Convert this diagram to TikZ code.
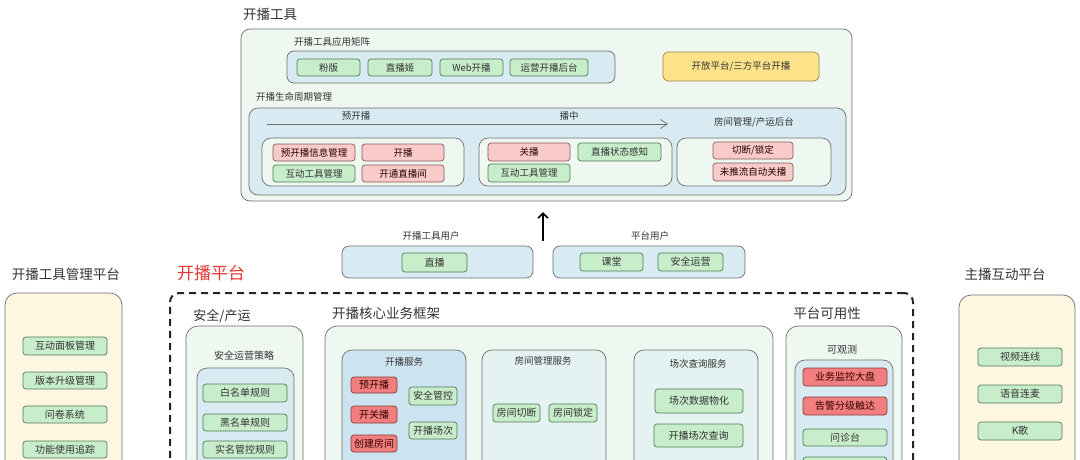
\documentclass[tikz,border=0pt]{standalone}
\usepackage{fontspec}
\setmainfont{Noto Sans CJK SC}
\usetikzlibrary{arrows.meta}
\definecolor{paleg}{HTML}{EEF8F0}
\definecolor{lblue}{HTML}{D8EBF3}
\definecolor{mblue}{HTML}{CCE4EF}
\definecolor{gfill}{HTML}{C8EDCB}
\definecolor{gdraw}{HTML}{4F7A55}
\definecolor{pfill}{HTML}{F8CACA}
\definecolor{pdraw}{HTML}{8A5555}
\definecolor{rfill}{HTML}{F17F7F}
\definecolor{rdraw}{HTML}{8A3A3A}
\definecolor{yfill}{HTML}{FCE38A}
\definecolor{ydraw}{HTML}{9A8645}
\definecolor{cream}{HTML}{FDF6E1}
\definecolor{bdr}{HTML}{6E6E6E}
\definecolor{txt}{HTML}{333333}
\definecolor{redt}{HTML}{E53935}
\newcommand\bx[7]{\node[#2, minimum width={(#5)-(#3)}, minimum height={(#6)-(#4)}] (#1) at ({((#3)+(#5))/2},{((#4)+(#6))/2}) {#7};}
\tikzset{
  cont/.style={draw=bdr, line width=0.7pt, rounded corners=9pt, inner sep=0pt},
  item/.style={line width=0.7pt, rounded corners=3pt, inner sep=0pt, text=txt, font=\fontsize{9.5}{11}\selectfont},
  gitem/.style={item, fill=gfill, draw=gdraw},
  pitem/.style={item, fill=pfill, draw=pdraw, text=black!75!red!60!black},
  ritem/.style={item, fill=rfill, draw=rdraw, text=black!70!red!70!black},
  yitem/.style={item, fill=yfill, draw=ydraw},
  big/.style={font=\fontsize{10}{12}\selectfont},
  lab/.style={inner sep=0pt, text=txt, font=\fontsize{9.5}{11}\selectfont},
  title/.style={inner sep=0pt, text=txt, font=\fontsize{13.5}{15}\selectfont},
  dframe/.style={draw=black!85, line width=2pt, dash pattern=on 7pt off 5pt, rounded corners=9pt, inner sep=0pt},
}
\begin{document}
\begin{tikzpicture}[x=1pt,y=-1pt]
\clip (0,0) rectangle (1080,459);
\fill[white] (0,0) rectangle (1080,459);
% ---------- top: 开播工具 ----------
\node[title] (t1) at (270,14) {开播工具};
\bx{tools}{cont, fill=paleg}{241}{29}{852}{201}{}
\node[lab] (lmat) at (332,42) {开播工具应用矩阵};
\bx{mat}{cont, fill=lblue, rounded corners=7pt}{287}{51}{615}{83}{}
\bx{m1}{gitem}{297}{59}{360}{76}{粉版}
\bx{m2}{gitem}{368}{59}{432}{76}{直播姬}
\bx{m3}{gitem}{440}{59}{503}{76}{Web开播}
\bx{m4}{gitem}{510}{59}{588}{76}{运营开播后台}
\bx{open}{yitem, rounded corners=5pt}{663}{52}{819}{81}{开放平台/三方平台开播}
\node[lab] (llife) at (294,97) {开播生命周期管理};
\bx{life}{cont, fill=lblue}{249}{108}{846}{195}{}
\node[lab] (lpre) at (356,116) {预开播};
\node[lab] (lmid) at (569,116) {播中};
\node[lab] (lroom) at (754,122) {房间管理/产运后台};
\coordinate (as) at (267,124);
\coordinate (ae) at (668,124);
\draw[draw=bdr, line width=0.7pt, -{Straight Barb[length=7pt,width=9pt]}] (as) -- (ae);
\bx{ph1}{cont, fill=paleg}{262}{138}{464}{186}{}
\bx{p1}{pitem}{273}{144}{355}{161}{预开播信息管理}
\bx{p2}{pitem}{362}{144}{444}{161}{开播}
\bx{p3}{gitem}{273}{165}{355}{182}{互动工具管理}
\bx{p4}{pitem}{362}{165}{444}{182}{开通直播间}
\bx{ph2}{cont, fill=paleg}{479}{138}{672}{186}{}
\bx{q1}{pitem}{488}{143}{570}{161}{关播}
\bx{q2}{gitem}{578}{143}{661}{161}{直播状态感知}
\bx{q3}{gitem}{488}{164}{570}{182}{互动工具管理}
\bx{ph3}{cont, fill=paleg}{677}{138}{831}{186}{}
\bx{r1}{pitem}{713}{142}{793}{159}{切断/锁定}
\bx{r2}{pitem}{713}{163}{793}{181}{未推流自动关播}
% ---------- arrow ----------
\coordinate (ub) at (543,241);
\coordinate (ut) at (543,212);
\draw[line width=1.6pt, -{Straight Barb[length=5pt,width=10pt]}] (ub) -- (ut);
% ---------- users ----------
\node[lab] (lu1) at (431,236) {开播工具用户};
\bx{u1}{cont, fill=lblue, rounded corners=7pt}{342}{246}{533}{278}{}
\bx{u1a}{gitem, big}{402}{253}{467}{272}{直播}
\node[lab] (lu2) at (650,236) {平台用户};
\bx{u2}{cont, fill=lblue, rounded corners=7pt}{553}{246}{745}{278}{}
\bx{u2a}{gitem, big}{580}{253}{643}{271}{课堂}
\bx{u2b}{gitem, big}{658}{253}{723}{271}{安全运营}
% ---------- left: 开播工具管理平台 ----------
\node[title] (tl) at (66,274) {开播工具管理平台};
\bx{lp}{cont, fill=cream, rounded corners=12pt}{5}{293}{122}{500}{}
\bx{l1}{gitem, big}{23}{337}{107}{355}{互动面板管理}
\bx{l2}{gitem, big}{23}{372}{107}{389}{版本升级管理}
\bx{l3}{gitem, big}{23}{406}{107}{423}{问卷系统}
\bx{l4}{gitem, big}{23}{441}{107}{458}{功能使用追踪}
% ---------- platform ----------
\node[inner sep=0pt, text=redt, font=\fontsize{17}{19}\selectfont] (tp) at (211,273) {开播平台};
\bx{plat}{dframe}{170}{293}{913}{520}{}
% 安全/产运
\node[title, font=\fontsize{13}{15}\selectfont] (ts) at (222,316) {安全/产运};
\bx{sec}{cont, fill=paleg, rounded corners=12pt}{186}{326}{303}{500}{}
\node[lab, big] (lsec) at (244,356) {安全运营策略};
\bx{secin}{cont, fill=lblue, rounded corners=10pt}{197}{368}{294}{500}{}
\bx{s1}{gitem, big}{203}{384}{287}{402}{白名单规则}
\bx{s2}{gitem, big}{203}{414}{287}{431}{黑名单规则}
\bx{s3}{gitem, big}{203}{441}{287}{458}{实名管控规则}
% 核心业务框架
\node[title] (tc) at (386,313) {开播核心业务框架};
\bx{core}{cont, fill=paleg, rounded corners=12pt}{325}{326}{773}{500}{}
\bx{svc1}{cont, fill=mblue, rounded corners=10pt}{342}{350}{466}{500}{}
\node[lab] (lsvc1) at (404,362) {开播服务};
\bx{c1}{ritem, big}{351}{377}{397}{393}{预开播}
\bx{c2}{ritem, big}{351}{406}{397}{423}{开关播}
\bx{c3}{ritem, big}{351}{435}{397}{452}{创建房间}
\bx{c4}{gitem, big}{409}{387}{457}{405}{安全管控}
\bx{c5}{gitem, big}{409}{422}{457}{439}{开播场次}
\bx{svc2}{cont, fill=lblue!45!paleg, rounded corners=10pt}{482}{350}{606}{500}{}
\node[lab] (lsvc2) at (543,361) {房间管理服务};
\bx{d1}{gitem, big}{493}{404}{540}{422}{房间切断}
\bx{d2}{gitem, big}{549}{404}{597}{422}{房间锁定}
\bx{svc3}{cont, fill=lblue!45!paleg, rounded corners=10pt}{634}{350}{758}{500}{}
\node[lab] (lsvc3) at (698,364) {场次查询服务};
\bx{e1}{gitem, big}{655}{389}{743}{413}{场次数据物化}
\bx{e2}{gitem, big}{654}{424}{743}{447}{开播场次查询}
% 平台可用性
\node[title] (ta) at (827,313) {平台可用性};
\bx{avl}{cont, fill=paleg, rounded corners=12pt}{786}{326}{902}{500}{}
\node[lab, big] (lobs) at (842,350) {可观测};
\bx{obs}{cont, fill=lblue, rounded corners=10pt}{795}{360}{893}{500}{}
\bx{o1}{ritem, big}{803}{368}{887}{386}{业务监控大盘}
\bx{o2}{ritem, big}{803}{397}{887}{415}{告警分级触达}
\bx{o3}{gitem, big}{803}{429}{887}{446}{问诊台}
\bx{o4}{gitem, big}{803}{457}{887}{475}{}
% ---------- right: 主播互动平台 ----------
\node[title] (tr) at (1005,274) {主播互动平台};
\bx{rp}{cont, fill=cream, rounded corners=12pt}{959}{295}{1075}{500}{}
\bx{k1}{gitem, big}{978}{348}{1062}{366}{视频连线}
\bx{k2}{gitem, big}{978}{385}{1062}{403}{语音连麦}
\bx{k3}{gitem, big}{978}{422}{1062}{440}{K歌}
\end{tikzpicture}
\end{document}
